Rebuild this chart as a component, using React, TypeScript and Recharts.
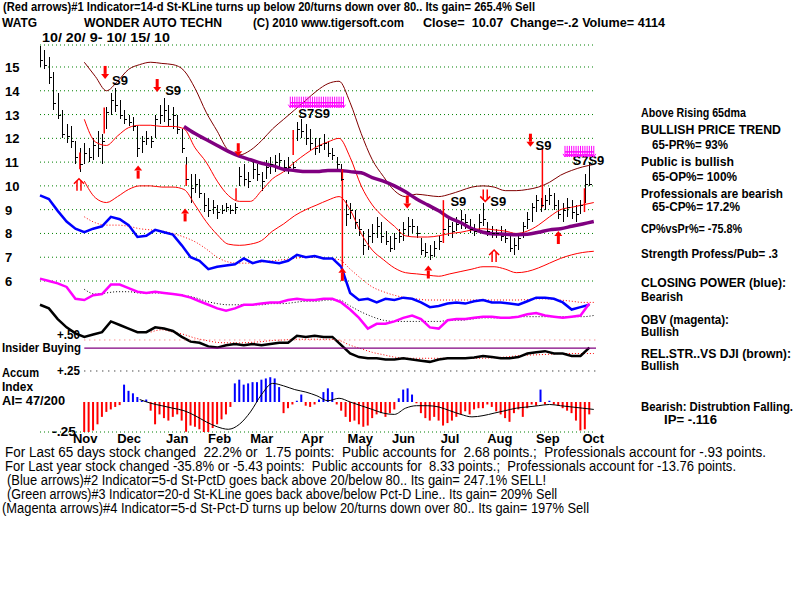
import React from "react";
import {
  Bar,
  CartesianGrid,
  Cell,
  ComposedChart,
  Line,
  ReferenceLine,
  Scatter,
  XAxis,
  YAxis,
} from "recharts";

// trading-day index, day 0 = 10/20/09, last day 249 = 10/15/10
const monthStarts = [9, 29, 51, 70, 89, 112, 133, 153, 175, 196, 218, 239];
const monthNames = ["Nov", "Dec", "Jan", "Feb", "Mar", "Apr", "May", "Jun", "Jul", "Aug", "Sep", "Oct"];
const priceTicks = [6, 7, 8, 9, 10, 11, 12, 13, 14, 15];

// price bars, one every 2 trading days
const barDays = [
  0, 2, 4, 6, 8, 10, 12, 14, 16, 18, 20, 22, 24, 26, 28, 30, 32, 34, 36, 38,
  40, 42, 44, 46, 48, 50, 52, 54, 56, 58, 60, 62, 64, 66, 68, 70, 72, 74, 76, 78,
  80, 82, 84, 86, 88, 90, 92, 94, 96, 98, 100, 102, 104, 106, 108, 110, 112, 114, 116, 118,
  120, 122, 124, 126, 128, 130, 132, 134, 136, 138, 140, 142, 144, 146, 148, 150, 152, 154, 156, 158,
  160, 162, 164, 166, 168, 170, 172, 174, 176, 178, 180, 182, 184, 186, 188, 190, 192, 194, 196, 198,
  200, 202, 204, 206, 208, 210, 212, 214, 216, 218, 220, 222, 224, 226, 228, 230, 232, 234, 236, 238,
  240, 242, 244, 246, 248,
];
const barHigh = [
  15.9, 15.7, 15.4, 14.8, 13.9, 13.2, 12.6, 12.5, 11.9, 11.6,
  11.8, 11.6, 12.0, 12.3, 12.2, 13.3, 13.9, 14.1, 13.6, 13.2,
  13.0, 12.9, 12.5, 12.1, 12.3, 12.1, 13.0, 13.4, 13.7, 13.4,
  13.3, 13.0, 12.4, 11.2, 10.5, 10.5, 10.3, 9.7, 9.5, 9.4,
  9.2, 9.2, 9.3, 9.2, 9.3, 10.8, 10.9, 10.6, 11.0, 10.9,
  10.6, 11.1, 11.2, 11.3, 11.4, 11.1, 11.2, 11.0, 12.7, 12.8,
  12.6, 12.4, 12.0, 12.0, 12.2, 11.9, 11.6, 11.2, 10.9, 9.4,
  9.3, 9.0, 8.6, 8.1, 8.2, 8.4, 8.7, 8.5, 8.1, 7.9,
  8.0, 8.2, 8.5, 8.7, 8.6, 8.3, 7.8, 7.6, 7.5, 7.7,
  7.9, 8.6, 8.6, 8.5, 8.7, 9.0, 8.8, 8.6, 8.4, 8.8,
  9.3, 8.5, 8.3, 8.2, 8.3, 8.2, 7.9, 7.8, 8.0, 8.5,
  8.9, 9.3, 9.6, 9.5, 9.6, 9.9, 9.7, 9.4, 9.3, 9.5,
  9.4, 9.2, 9.4, 10.5, 11.0,
];
const barLow = [
  15.0, 14.9, 14.3, 13.2, 12.8, 12.0, 11.8, 11.6, 10.9, 10.6,
  10.9, 11.0, 11.1, 11.2, 10.9, 12.4, 13.0, 13.1, 12.8, 12.6,
  12.5, 12.3, 11.2, 11.4, 11.7, 11.6, 12.0, 12.6, 12.7, 12.5,
  12.4, 12.2, 11.4, 10.1, 9.3, 9.7, 9.5, 8.9, 8.7, 8.8,
  8.6, 8.8, 8.9, 8.8, 8.8, 10.0, 10.0, 9.9, 10.3, 10.2,
  9.8, 10.3, 10.5, 10.6, 10.7, 10.6, 10.5, 10.6, 11.9, 12.0,
  11.7, 11.5, 11.3, 11.4, 11.5, 11.2, 11.1, 10.6, 10.2, 8.3,
  8.6, 8.2, 7.9, 7.1, 7.3, 7.6, 7.8, 7.6, 7.5, 7.2,
  7.3, 7.6, 7.7, 7.9, 8.0, 7.8, 7.1, 7.0, 6.9, 7.0,
  7.3, 7.6, 7.9, 7.8, 8.1, 8.2, 8.2, 8.0, 7.9, 8.0,
  8.3, 7.9, 7.8, 7.8, 7.7, 7.6, 7.2, 7.1, 7.3, 7.8,
  8.2, 8.5, 8.9, 8.9, 9.0, 9.2, 9.0, 8.6, 8.5, 8.7,
  8.6, 8.5, 8.8, 9.3, 10.0,
];
const barClose = [
  15.3, 15.1, 14.6, 13.5, 13.0, 12.2, 12.1, 11.9, 11.2, 10.9,
  11.4, 11.2, 11.7, 11.6, 11.9, 13.1, 13.6, 13.4, 13.0, 12.8,
  12.7, 12.5, 11.6, 11.9, 12.0, 11.9, 12.8, 13.0, 13.2, 12.8,
  13.0, 12.4, 11.6, 10.3, 9.9, 10.1, 9.7, 9.2, 9.0, 9.1,
  8.9, 9.0, 9.1, 9.0, 9.1, 10.4, 10.3, 10.2, 10.7, 10.5,
  10.2, 10.8, 10.9, 11.0, 11.1, 10.8, 10.8, 10.8, 12.4, 12.3,
  12.0, 11.8, 11.6, 11.7, 11.8, 11.4, 11.3, 10.9, 10.3, 8.8,
  9.0, 8.5, 8.2, 7.5, 7.9, 8.0, 8.3, 7.9, 7.7, 7.4,
  7.8, 7.9, 8.2, 8.3, 8.3, 8.0, 7.3, 7.2, 7.1, 7.4,
  7.7, 8.2, 8.3, 8.1, 8.4, 8.6, 8.5, 8.2, 8.1, 8.5,
  8.6, 8.1, 8.0, 8.0, 7.9, 7.8, 7.4, 7.5, 7.8, 8.3,
  8.6, 9.1, 9.4, 9.2, 9.4, 9.6, 9.2, 8.8, 9.0, 9.1,
  8.9, 8.8, 9.2, 10.1, 10.07,
];
// Accumulation Index histogram, same 2-day grid
const aiHist = [
  null, null, null, null, null, null, null, null, null, null,
  -0.28, -0.25, -0.23, -0.18, -0.12, -0.08, -0.06, -0.04, -0.025, 0.14,
  0.09, 0.07, 0.04, 0.01, 0.02, -0.07, -0.18, -0.1, -0.13, -0.15,
  -0.12, -0.1, -0.15, -0.24, -0.19, -0.2, -0.22, -0.28, -0.25, -0.21,
  -0.18, -0.14, -0.1, -0.04, 0.15, 0.18, 0.14, 0.15, 0.16, 0.16,
  0.18, 0.19, 0.2, 0.19, 0.12, -0.09, -0.05, -0.02, 0.01, 0.06,
  -0.03, -0.04, -0.02, 0.02, 0.08, 0.11, 0.08, -0.02, -0.07, -0.12,
  -0.16, -0.15, -0.18, -0.2, -0.19, -0.13, -0.1, -0.09, -0.12, -0.09,
  -0.06, 0.03, 0.1, 0.11, 0.06, -0.01, -0.09, -0.13, -0.15, -0.12,
  -0.15, -0.19, -0.17, -0.15, -0.12, -0.1, -0.075, -0.1, -0.06, -0.05,
  -0.05, -0.02, -0.04, -0.075, -0.1, -0.13, -0.16, -0.09, -0.06, -0.12,
  -0.05, -0.02, -0.03, 0.1, -0.02, 0.01, -0.02, -0.03, -0.05, -0.07,
  -0.09, -0.15, -0.23, -0.22, -0.1,
];

// indicator lines, one point every 4 trading days (drawn in price units)
const jagDays = [
  0, 4, 8, 12, 16, 20, 24, 28, 32, 36, 40, 44, 48, 52, 56, 60, 64, 68, 72, 76,
  80, 84, 88, 92, 96, 100, 104, 108, 112, 116, 120, 124, 128, 132, 136, 140, 144, 148, 152, 156,
  160, 164, 168, 172, 176, 180, 184, 188, 192, 196, 200, 204, 208, 212, 216, 220, 224, 228, 232, 236,
  240, 244, 248,
];
const closingPower = [
  9.6, 9.45, 8.95, 8.5, 8.2, 8.05, 8.2, 8.3, 8.7, 8.6,
  8.35, 7.85, 7.9, 8.15, 8.05, 7.95, 7.5, 7.0, 6.85, 6.5,
  6.6, 6.65, 6.7, 6.95, 6.75, 6.85, 6.8, 6.75, 6.85, 7.1,
  7.0, 7.05, 6.95, 6.95, 6.6, 5.5, 5.2, 5.25, 5.1, 5.25,
  5.2, 5.3, 5.25, 5.1, 4.9, 4.95, 5.05, 5.1, 5.05, 5.15,
  5.2, 5.1, 5.1, 5.05, 5.0, 5.15, 5.3, 5.3, 5.25, 5.1,
  4.8, 4.9, 5.0,
];
const obv = [
  6.1, 6.0, 5.9, 5.75, 5.25, 5.2, 5.4, 5.45, 5.85, 5.85,
  5.7, 5.55, 5.5, 5.55, 5.5, 5.45, 5.4, 5.3, 5.15, 5.0,
  4.85, 4.75, 4.85, 5.0, 5.0, 5.05, 5.1, 5.1, 5.2, 5.25,
  5.2, 5.2, 5.25, 5.25, 5.1, 4.8, 4.45, 4.0, 4.2, 4.2,
  4.3, 4.45, 4.55, 4.4, 4.05, 4.0, 4.35, 4.4, 4.4, 4.45,
  4.5, 4.5, 4.45, 4.45, 4.5, 4.6, 4.65, 4.55, 4.5, 4.45,
  4.5, 4.55, 5.05,
];
const relStrength = [
  5.0, 4.85, 4.4, 4.05, 3.8, 3.65, 3.75, 3.85, 4.3, 4.15,
  4.0, 3.85, 3.85, 4.05, 4.0, 3.9, 3.65, 3.45, 3.4, 3.25,
  3.2, 3.3, 3.35, 3.3, 3.35, 3.3, 3.35, 3.4, 3.4, 3.7,
  3.65, 3.7, 3.65, 3.65, 3.3, 2.95, 2.8, 2.75, 2.75, 2.7,
  2.7, 2.75, 2.7, 2.65, 2.6, 2.7, 2.75, 2.75, 2.75, 2.78,
  2.85, 2.8, 2.75, 2.75, 2.8, 2.95, 3.0, 3.05, 2.95, 2.95,
  2.85, 2.85, 3.2,
];

// smooth bands and averages, one point every 5 trading days
const bandDays = [
  20, 25, 30, 35, 40, 45, 50, 55, 60, 65, 70, 75, 80, 85, 90, 95, 100, 105, 110, 115,
  120, 125, 130, 135, 140, 145, 150, 155, 160, 165, 170, 175, 180, 185, 190, 195, 200, 205, 210, 215,
  220, 225, 230, 235, 240, 245, 250,
];
const outerBand = [
  15.2, 14.6, 14.0, 14.4, 14.9, 15.1, 15.2, 15.15, 15.1, 14.85,
  14.1, 13.1, 12.3, 11.5, 11.3, 11.5, 11.9, 12.4, 12.8, 13.2,
  13.6, 14.0, 14.3, 14.4, 13.5, 12.2, 11.1, 10.4, 9.8, 9.55,
  9.65, 9.6, 9.55, 9.65, 9.8, 9.95, 10.0, 9.95, 9.8, 9.8,
  9.85, 9.95, 10.15, 10.45, 10.65, 10.8, 10.9,
];
const upperBand = [
  12.8, 11.85, 11.7, 12.1, 12.45, 12.55, 12.55, 12.5, 12.5, 12.4,
  11.6, 11.0, 10.2, 9.6, 9.35, 9.35, 9.8, 10.3, 10.6, 11.0,
  11.35, 11.65, 11.85, 12.0, 11.2, 10.0, 9.2, 8.7, 8.3, 7.9,
  7.85, 7.85, 7.9, 8.0, 8.05, 8.15, 8.2, 8.15, 8.1, 8.0,
  8.1, 8.35, 8.7, 9.0, 9.1, 9.2, 9.3,
];
const lowerBand = [
  10.2, 9.5, 9.3, 9.55, 9.85, 10.0, 10.0, 9.95, 9.95, 9.85,
  9.2, 8.5, 7.95, 7.55, 7.5, 7.55, 7.7, 8.1, 8.4, 8.75,
  9.0, 9.2, 9.4, 9.55, 9.0, 8.0, 7.3, 6.9, 6.55, 6.35,
  6.3, 6.25, 6.2, 6.3, 6.4, 6.5, 6.6, 6.6, 6.5, 6.35,
  6.4, 6.55, 6.75, 6.95, 7.1, 7.2, 7.25,
];
const ma65 = [
  null, null, null, null, null, null, null, null, null, 12.5,
  12.2, 11.95, 11.7, 11.45, 11.25, 11.1, 10.95, 10.85, 10.7, 10.65,
  10.6, 10.6, 10.65, 10.65, 10.6, 10.55, 10.35, 10.2, 10.0, 9.75,
  9.45, 9.2, 8.95, 8.65, 8.45, 8.2, 8.05, 7.98, 7.97, 7.95,
  7.97, 8.05, 8.15, 8.2, 8.3, 8.4, 8.5,
];
const closingPowerMa = [
  8.7, 8.45, 8.35, 8.35, 8.3, 8.2, 8.15, 8.1, 8.0, 7.85,
  7.65, 7.35, 7.0, 6.8, 6.75, 6.75, 6.8, 6.85, 6.9, 6.95,
  7.0, 7.0, 6.95, 6.9, 6.5, 6.1, 5.75, 5.55, 5.4, 5.3,
  5.25, 5.2, 5.2, 5.2, 5.2, 5.2, 5.2, 5.2, 5.2, 5.2,
  5.22, 5.25, 5.25, 5.2, 5.15, 5.1, 5.1,
];
const obvMa = [
  5.65, 5.45, 5.5, 5.55, 5.55, 5.5, 5.5, 5.5, 5.45, 5.4,
  5.3, 5.15, 5.05, 5.0, 5.0, 5.0, 5.0, 5.05, 5.05, 5.1,
  5.15, 5.15, 5.2, 5.2, 4.95, 4.7, 4.5, 4.35, 4.3, 4.3,
  4.3, 4.3, 4.3, 4.35, 4.35, 4.4, 4.45, 4.45, 4.45, 4.5,
  4.5, 4.5, 4.5, 4.5, 4.5, 4.5, 4.55,
];
const relStrengthMa = [
  null, null, null, null, null, null, 3.85, 3.95, 3.85, 3.75,
  3.6, 3.5, 3.42, 3.4, 3.4, 3.42, 3.45, 3.5, 3.52, 3.55,
  3.55, 3.55, 3.55, 3.5, 3.3, 3.15, 3.0, 2.9, 2.8, 2.75,
  2.75, 2.75, 2.75, 2.75, 2.75, 2.75, 2.75, 2.78, 2.8, 2.85,
  2.88, 2.9, 2.92, 2.95, 2.95, 2.95, 2.95,
];
const aiMa = [
  null, null, null, null, null, 0.02, -0.01, -0.03, -0.05, -0.07,
  -0.11, -0.16, -0.2, -0.22, -0.18, -0.08, 0.06, 0.15, 0.13, 0.1,
  0.08, 0.05, 0.01, 0.03, 0.0, -0.03, -0.06, -0.09, -0.1, -0.05,
  -0.03, -0.03, -0.04, -0.07, -0.1, -0.12, -0.11, -0.09, -0.07, -0.05,
  -0.04, -0.03, -0.02, -0.03, -0.04, -0.05, -0.06,
];
const insiderLevel = 0.435;

// signals
const signalDays = [18, 29, 66, 88.5, 114.3, 136.5, 182.1, 226.8, 245.8];
const signalLow = [10.7, 12.2, 10.0, 9.4, 11.3, 6.6, 7.6, 9.1, 8.9];
const signalHigh = [11.4, 13.3, 10.9, 9.9, 12.35, 10.7, 9.4, 11.6, 9.9];
const downArrowDays = [29.4, 52.9, 89.5, 165.8, 221.4];
const downArrowPrice = [14.75, 14.2, 11.5, 9.3, 11.9];
const doubleDownDays = [201];
const doubleDownPrice = [9.6];
const upArrowDays = [44.3, 65.5, 136.5, 175.3, 234];
const upArrowPrice = [10.6, 8.8, 6.3, 6.4, 7.85];
const doubleUpDays = [17.6, 205];
const doubleUpPrice = [10.05, 7.05];
const labelDays = [32.5, 56.5, 116.6, 185.3, 203.3, 223.7, 240.4];
const labelPrice = [14.45, 14.03, 13.07, 9.35, 9.35, 11.7, 11.1];
const labelText = ["S9", "S9", "S7S9", "S9", "S9", "S9", "S7S9"];
const magentaDays1 = [113, 114, 115, 116, 117, 118, 119, 120, 121, 122, 123, 124, 125, 126, 127, 128, 129, 130, 131, 132, 133, 134, 135, 136, 137];
const magentaPrice1 = 13.5;
const magentaDays2 = [237, 238, 239, 240, 241, 242, 243, 244, 245, 246, 247, 248, 249, 250];
const magentaPrice2 = 11.43;

const FONT = "'Liberation Sans', Arial, sans-serif";
const X_DOMAIN: [number, number] = [0, 251];

const rows = (days: number[], vals: (number | null)[]) => days.map((d, i) => ({ d, v: vals[i] }));
const pointRows = (days: number[], vals: number[]) => days.map((d, i) => ({ d, v: vals[i] }));

const priceRows = barDays.map((d, i) => ({
  d,
  h: barHigh[i],
  l: barLow[i],
  c: barClose[i],
  ai: aiHist[i],
}));

function MonthTick(props: any) {
  const { x, y, payload } = props;
  const i = monthStarts.indexOf(payload.value);
  return (
    <text x={x + 13} y={y + 11} fontFamily={FONT} fontWeight="bold" fontSize={13} fill="#000">
      {monthNames[i]}
    </text>
  );
}

function PriceTick(props: any) {
  const { y, payload } = props;
  return (
    <text x={5} y={y + 5} fontFamily={FONT} fontWeight="bold" fontSize={13} fill="#000">
      {payload.value}
    </text>
  );
}

// high-low stick, snapped to a whole pixel so it stays black
const PriceStick = (p: any) => {
  if (p.height == null || p.x == null) return null;
  const cx = Math.round(p.x + p.width / 2);
  const top = Math.min(p.y, p.y + p.height);
  return <rect x={cx} y={top} width={1} height={Math.abs(p.height)} fill="#000" shapeRendering="crispEdges" />;
};

const CloseTick = (p: any) =>
  p.cx == null ? null : (
    <line x1={Math.round(p.cx)} x2={Math.round(p.cx) + 3} y1={Math.round(p.cy) + 0.5} y2={Math.round(p.cy) + 0.5} stroke="#000" />
  );

const DownArrow = (p: any) => (
  <g fill="#ff0000">
    <rect x={p.cx - 1.5} y={p.cy - 7} width={3} height={8} />
    <polygon points={`${p.cx - 4},${p.cy + 1} ${p.cx + 4},${p.cy + 1} ${p.cx},${p.cy + 6}`} />
  </g>
);

const UpArrow = (p: any) => (
  <g fill="#ff0000">
    <rect x={p.cx - 1.5} y={p.cy - 1} width={3} height={8} />
    <polygon points={`${p.cx - 4},${p.cy - 1} ${p.cx + 4},${p.cy - 1} ${p.cx},${p.cy - 6}`} />
  </g>
);

const DoubleDown = (p: any) => (
  <g stroke="#ff0000" strokeWidth={1.5} fill="none">
    <line x1={p.cx - 2} x2={p.cx - 2} y1={p.cy - 6} y2={p.cy + 4} />
    <line x1={p.cx + 2} x2={p.cx + 2} y1={p.cy - 6} y2={p.cy + 4} />
    <polyline points={`${p.cx - 5},${p.cy + 1} ${p.cx},${p.cy + 6} ${p.cx + 5},${p.cy + 1}`} />
  </g>
);

const DoubleUp = (p: any) => (
  <g stroke="#ff0000" strokeWidth={1.5} fill="none">
    <line x1={p.cx - 2} x2={p.cx - 2} y1={p.cy - 4} y2={p.cy + 6} />
    <line x1={p.cx + 2} x2={p.cx + 2} y1={p.cy - 4} y2={p.cy + 6} />
    <polyline points={`${p.cx - 5},${p.cy - 1} ${p.cx},${p.cy - 6} ${p.cx + 5},${p.cy - 1}`} />
  </g>
);

const MagentaArrow = (p: any) => (
  <g stroke="#ff00ff" strokeWidth={1} fill="none">
    <line x1={p.cx} x2={p.cx} y1={p.cy - 6} y2={p.cy + 5} />
    <polyline points={`${p.cx - 2},${p.cy + 2} ${p.cx},${p.cy + 5} ${p.cx + 2},${p.cy + 2}`} />
  </g>
);

const SignalLabel = (p: any) => (
  <text x={p.cx} y={p.cy + 5} fontFamily={FONT} fontWeight="bold" fontSize={13} fill="#000">
    {p.payload.t}
  </text>
);

const header: [string, number, number, number][] = [
  ["(Red arrows)#1 Indicator=14-d St-KLine turns up below 20/turns down over 80.. Its gain= 265.4% Sell", 3, 11, 532],
  ["WATG", 2, 27, 35],
  ["WONDER AUTO TECHN", 84, 27, 138],
  ["(C) 2010 www.tigersoft.com", 253, 27, 151],
  ["Close=  10.07  Change=-.2 Volume= 4114", 423, 27, 242],
  ["10/ 20/ 9- 10/ 15/ 10", 42, 42, 128],
];

const sidePanel: [string, number, number, number][] = [
  ["Above Rising 65dma", 641, 117, 105],
  ["BULLISH PRICE TREND", 641, 134, 140],
  ["65-PR%= 93%", 652, 149, 76],
  ["Public is bullish", 641, 166, 93],
  ["65-OP%= 100%", 652, 181, 85],
  ["Professionals are bearish", 641, 198, 142],
  ["65-CP%= 17.2%", 652, 211, 88],
  ["CP%vsPr%= -75.8%", 641, 233, 101],
  ["Strength Profess/Pub= .3", 641, 258, 137],
  ["CLOSING POWER (blue):", 641, 287, 145],
  ["Bearish", 641, 301, 42],
  ["OBV (magenta):", 641, 324, 88],
  ["Bullish", 641, 336, 38],
  ["REL.STR..VS DJI (brown):", 641, 358, 150],
  ["Bullish", 641, 370, 38],
  ["Bearish: Distrubtion Falling.", 641, 411, 152],
  ["IP= -.116", 664, 424, 53],
];

const leftLabels: [string, number, number, number][] = [
  ["+.50", 57, 339, 23],
  ["Insider Buying", 2, 352, 79],
  ["Accum", 2, 377, 37],
  ["+.25", 57, 375, 23],
  ["Index", 2, 391, 31],
  ["AI= 47/200", 2, 405, 63],
  ["-.25", 52, 436, 24],
];

const footerBold: [string, number, number, number][] = [
  ["For Last 65 days stock changed  22.2% or  1.75 points:  Public accounts for  2.68 points.;  Professionals account for -.93 points.", 5, 457, 761],
  ["For Last year stock changed -35.8% or -5.43 points:  Public accounts for  8.33 points.;  Professionals account for -13.76 points.", 5, 471, 731],
];
const footerNarrow: [string, number, number, number][] = [
  ["(Blue arrows)#2 Indicator=5-d St-PctD goes back above 20/below 80.. Its gain= 247.1% SELL!", 7, 485, 539],
  ["(Green arrows)#3 Indicator=20-d St-KLine goes back above/below Pct-D Line.. Its gain= 209% Sell", 7, 499, 550],
  ["(Magenta arrows)#4 Indicator=5-d St-Pct-D turns up below 20/turns down over 80.. Its gain= 197% Sell", 2, 513, 587],
];

function TextBlock({ items, size, bold }: { items: [string, number, number, number][]; size: number; bold: boolean }) {
  return (
    <>
      {items.map(([t, x, y, w], i) => (
        <text
          key={i}
          x={x}
          y={y}
          textLength={w}
          lengthAdjust="spacingAndGlyphs"
          fontFamily={FONT}
          fontWeight={bold ? "bold" : "normal"}
          fontSize={size}
          fill="#000"
          style={{ whiteSpace: "pre" }}
        >
          {t}
        </text>
      ))}
    </>
  );
}

const lineProps = { dot: false, activeDot: false, isAnimationActive: false, connectNulls: false } as const;

export default function App() {
  return (
    <div style={{ position: "absolute", left: 0, top: 0, width: 800, height: 600, background: "#fff", overflow: "hidden" }}>
      <div style={{ position: "absolute", left: 0, top: 0 }}>
        <ComposedChart width={800} height={450} data={priceRows} margin={{ top: 45, right: 204, bottom: 0, left: 0 }}>
          <CartesianGrid vertical={false} stroke="#008000" strokeDasharray="1 3" />
          <XAxis
            type="number"
            dataKey="d"
            domain={X_DOMAIN}
            ticks={monthStarts}
            interval={0}
            axisLine={false}
            tickLine={false}
            tickSize={0}
            tickMargin={0}
            height={18}
            tick={(p: any) => <MonthTick {...p} />}
          />
          <YAxis
            type="number"
            domain={[-0.35, 15.925]}
            ticks={priceTicks}
            interval={0}
            axisLine={false}
            tickLine={false}
            tickSize={0}
            tickMargin={0}
            width={40}
            tick={(p: any) => <PriceTick {...p} />}
          />

          <Line data={rows(bandDays, closingPowerMa)} dataKey="v" type="monotone" stroke="#ff0000" strokeWidth={1} strokeDasharray="1 2" {...lineProps} />
          <Line data={rows(bandDays, obvMa)} dataKey="v" type="monotone" stroke="#000" strokeWidth={1} strokeDasharray="1 2" {...lineProps} />
          <Line data={rows(bandDays, relStrengthMa)} dataKey="v" type="monotone" stroke="#ff0000" strokeWidth={1} strokeDasharray="1 2" {...lineProps} />
          <Line data={rows(jagDays, closingPower)} dataKey="v" type="linear" stroke="#0000ff" strokeWidth={2.5} {...lineProps} />
          <Line data={rows(jagDays, obv)} dataKey="v" type="linear" stroke="#ff00ff" strokeWidth={2.5} {...lineProps} />
          <Line data={rows(jagDays, relStrength)} dataKey="v" type="linear" stroke="#000" strokeWidth={2.5} {...lineProps} />

          <Line data={rows(bandDays, outerBand)} dataKey="v" type="monotone" stroke="#800000" strokeWidth={1} {...lineProps} />
          <Line data={rows(bandDays, upperBand)} dataKey="v" type="monotone" stroke="#ff0000" strokeWidth={1} {...lineProps} />
          <Line data={rows(bandDays, lowerBand)} dataKey="v" type="monotone" stroke="#ff0000" strokeWidth={1} {...lineProps} />
          <Line data={rows(bandDays, ma65)} dataKey="v" type="monotone" stroke="#800080" strokeWidth={3.5} {...lineProps} />

          <Bar dataKey={(r: any) => [r.l, r.h]} barSize={2} fill="#000" shape={PriceStick} isAnimationActive={false} />
          <Scatter data={priceRows} dataKey="c" shape={CloseTick} isAnimationActive={false} />

          {signalDays.map((d, i) => (
            <Line
              key={`sig${i}`}
              data={[{ d, v: signalLow[i] }, { d, v: signalHigh[i] }]}
              dataKey="v"
              type="linear"
              stroke="#ff0000"
              strokeWidth={1.5}
              {...lineProps}
            />
          ))}

          <Line
            data={[{ d: magentaDays1[0], v: magentaPrice1 }, { d: magentaDays1[magentaDays1.length - 1], v: magentaPrice1 }]}
            dataKey="v"
            stroke="#ff00ff"
            strokeWidth={1.5}
            {...lineProps}
          />
          <Line
            data={[{ d: magentaDays2[0], v: magentaPrice2 }, { d: magentaDays2[magentaDays2.length - 1], v: magentaPrice2 }]}
            dataKey="v"
            stroke="#ff00ff"
            strokeWidth={1.5}
            {...lineProps}
          />
          <Scatter data={labelDays.map((d, i) => ({ d, v: labelPrice[i], t: labelText[i] }))} dataKey="v" shape={SignalLabel} isAnimationActive={false} />
          <Scatter data={magentaDays1.map((d) => ({ d, v: magentaPrice1 }))} dataKey="v" shape={MagentaArrow} isAnimationActive={false} />
          <Scatter data={magentaDays2.map((d) => ({ d, v: magentaPrice2 }))} dataKey="v" shape={MagentaArrow} isAnimationActive={false} />
          <Scatter data={pointRows(downArrowDays, downArrowPrice)} dataKey="v" shape={DownArrow} isAnimationActive={false} />
          <Scatter data={pointRows(upArrowDays, upArrowPrice)} dataKey="v" shape={UpArrow} isAnimationActive={false} />
          <Scatter data={pointRows(doubleDownDays, doubleDownPrice)} dataKey="v" shape={DoubleDown} isAnimationActive={false} />
          <Scatter data={pointRows(doubleUpDays, doubleUpPrice)} dataKey="v" shape={DoubleUp} isAnimationActive={false} />
        </ComposedChart>
      </div>

      <div style={{ position: "absolute", left: 0, top: 0 }}>
        <ComposedChart width={800} height={450} data={priceRows} margin={{ top: 45, right: 204, bottom: 18, left: 40 }}>
          <XAxis type="number" dataKey="d" domain={X_DOMAIN} hide allowDataOverflow />
          <YAxis yAxisId="ai" type="number" domain={[-0.242, 2.879]} hide allowDataOverflow />
          <ReferenceLine yAxisId="ai" segment={[{ x: 20, y: 0.5 }, { x: 251, y: 0.5 }]} stroke="#ff6060" strokeDasharray="1 4" />
          <ReferenceLine yAxisId="ai" segment={[{ x: 20, y: 0.25 }, { x: 251, y: 0.25 }]} stroke="#000" strokeDasharray="1 5" />
          <ReferenceLine yAxisId="ai" segment={[{ x: 20, y: -0.25 }, { x: 251, y: -0.25 }]} stroke="#ff6060" strokeDasharray="1 4" />
          <ReferenceLine yAxisId="ai" segment={[{ x: 20, y: insiderLevel }, { x: 251, y: insiderLevel }]} stroke="#800080" strokeWidth={1.2} />
          <Bar yAxisId="ai" dataKey="ai" barSize={2} isAnimationActive={false}>
            {priceRows.map((r, i) => (
              <Cell key={i} fill={r.ai != null && r.ai >= 0 ? "#0000ff" : "#ff0000"} />
            ))}
          </Bar>
          <Line yAxisId="ai" data={rows(bandDays, aiMa)} dataKey="v" type="monotone" stroke="#000" strokeWidth={1} {...lineProps} />
        </ComposedChart>
      </div>

      <svg width={800} height={600} style={{ position: "absolute", left: 0, top: 0, pointerEvents: "none" }}>
        <TextBlock items={header} size={13} bold />
        <TextBlock items={sidePanel} size={12} bold />
        <TextBlock items={leftLabels} size={13} bold />
        <TextBlock items={footerBold} size={14} bold={false} />
        <TextBlock items={footerNarrow} size={14} bold={false} />
      </svg>
    </div>
  );
}
